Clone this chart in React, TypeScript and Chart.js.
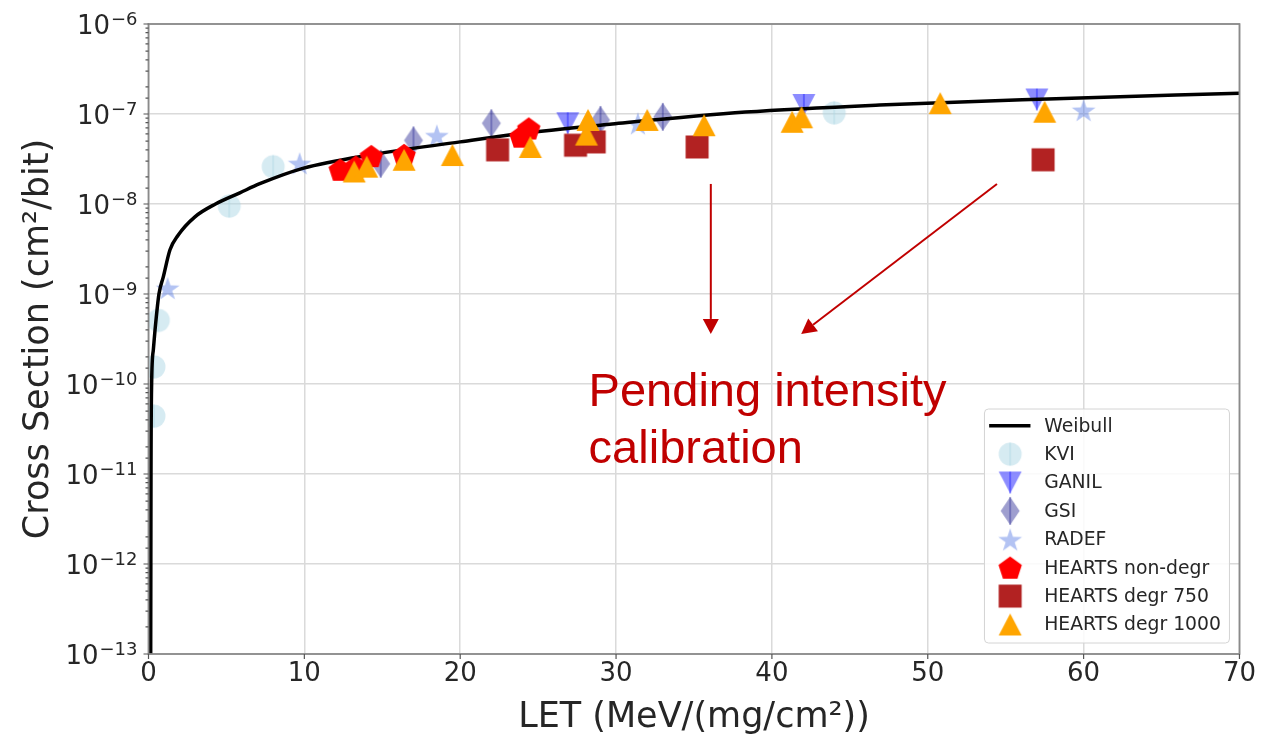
import React, { useEffect, useRef } from 'react';
import { Chart, registerables } from 'chart.js';

Chart.register(...registerables);

// ---------------- data ----------------
const WEIBULL_LET = [0.14, 0.15, 0.16, 0.2, 0.31, 0.42, 0.67, 0.95, 1.38, 1.9, 2.98, 4.3, 5.86, 7.14, 9.9, 14.4, 20.0, 23.6, 29.75, 38.3, 46.9, 57.7, 70];
const WEIBULL_SIGMA = [1e-13, 1e-12, 1e-11, 1e-10, 2.4e-10, 4.0e-10, 1.0e-9, 1.55e-9, 3.1e-9, 4.5e-9, 7.2e-9, 1.0e-8, 1.33e-8, 1.68e-8, 2.49e-8, 3.55e-8, 4.9e-8, 6.0e-8, 7.74e-8, 1.05e-7, 1.26e-7, 1.47e-7, 1.70e-7];

const KVI_LET = [0.35, 0.35, 0.63, 5.18, 8.0, 44.0];
const KVI_SIGMA = [4.4e-11, 1.55e-10, 5.1e-10, 9.5e-9, 2.6e-8, 1.03e-7];

const GANIL_LET = [26.9, 42.05, 57.0];
const GANIL_SIGMA = [7.9e-8, 1.26e-7, 1.45e-7];

const GSI_LET = [14.9, 17.0, 22.0, 29.0, 33.0];
const GSI_SIGMA = [2.8e-8, 5.1e-8, 7.9e-8, 8.6e-8, 9.3e-8];

const RADEF_LET = [1.23, 9.7, 18.5, 31.4, 60.0];
const RADEF_SIGMA = [1.17e-9, 2.85e-8, 5.8e-8, 7.9e-8, 1.11e-7];

const NONDEGR_LET = [12.3, 13.3, 14.3, 16.4, 23.9, 24.4];
const NONDEGR_SIGMA = [2.4e-8, 2.6e-8, 3.4e-8, 3.5e-8, 5.6e-8, 6.9e-8];

const DEGR750_LET = [22.4, 27.4, 28.6, 35.2, 57.4];
const DEGR750_SIGMA = [4.0e-8, 4.5e-8, 4.9e-8, 4.3e-8, 3.1e-8];

const DEGR1000_LET = [13.2, 14.0, 16.4, 19.5, 24.5, 28.1, 28.2, 32.0, 35.65, 41.3, 41.9, 50.8, 57.5];
const DEGR1000_SIGMA = [2.3e-8, 2.6e-8, 3.1e-8, 3.5e-8, 4.3e-8, 5.9e-8, 8.6e-8, 8.6e-8, 7.5e-8, 8.2e-8, 9.2e-8, 1.32e-7, 1.06e-7];

const SERIES_LABELS = ['Weibull', 'KVI', 'GANIL', 'GSI', 'RADEF', 'HEARTS non-degr', 'HEARTS degr 750', 'HEARTS degr 1000'];

const X_TICK_STEP = 10;
const X_MIN = 0;
const X_MAX = 70;
const Y_TICK_EXP = [-13, -12, -11, -10, -9, -8, -7, -6];

const X_TITLE = 'LET (MeV/(mg/cm²))';
const Y_TITLE = 'Cross Section (cm²/bit)';

// annotation (data coordinates)
const NOTE_LINES = ['Pending intensity', 'calibration'];
const NOTE_LET = 28.24;
const NOTE_SIGMA = [5.7e-11, 1.31e-11];
const ARROWS = [
  { fromLET: 36.08, fromSigma: 1.67e-8, toLET: 36.08, toSigma: 3.6e-10 },
  { fromLET: 54.44, fromSigma: 1.67e-8, toLET: 41.88, toSigma: 3.6e-10 },
];

// ---------------- styling ----------------
const FONT = '"DejaVu Sans", sans-serif';
const TEXT = '#262626';
const GRID = '#dadada';
const NOTE_COLOR = '#C00000';

type Kind = 'circle' | 'triDown' | 'triUp' | 'thinDiamond' | 'star' | 'pentagon' | 'square';

function makeMarker(kind: Kind, fill: string, errLine?: string): HTMLCanvasElement {
  const S = 32;
  const c = document.createElement('canvas');
  c.width = S;
  c.height = S;
  const g = c.getContext('2d')!;
  g.translate(S / 2, S / 2);
  g.fillStyle = fill;
  g.beginPath();
  let h = 11;
  switch (kind) {
    case 'circle':
      g.arc(0, 0, 11.5, 0, Math.PI * 2);
      h = 11.5;
      break;
    case 'triDown':
      g.moveTo(-11.5, -11);
      g.lineTo(11.5, -11);
      g.lineTo(0, 11);
      g.closePath();
      break;
    case 'triUp':
      g.moveTo(0, -11);
      g.lineTo(11.5, 11);
      g.lineTo(-11.5, 11);
      g.closePath();
      break;
    case 'thinDiamond':
      g.moveTo(0, -14);
      g.lineTo(9.5, 0);
      g.lineTo(0, 14);
      g.lineTo(-9.5, 0);
      g.closePath();
      h = 14;
      break;
    case 'square':
      g.rect(-11.5, -11.5, 23, 23);
      break;
    case 'pentagon':
      for (let i = 0; i < 5; i++) {
        const a = (-90 + 72 * i) * Math.PI / 180;
        const px = Math.cos(a) * 12.3;
        const py = Math.sin(a) * 12.3 + 1;
        if (i === 0) g.moveTo(px, py); else g.lineTo(px, py);
      }
      g.closePath();
      break;
    case 'star':
      for (let i = 0; i < 10; i++) {
        const a = (-90 + 36 * i) * Math.PI / 180;
        const r = i % 2 === 0 ? 12.5 : 4.8;
        const px = Math.cos(a) * r;
        const py = Math.sin(a) * r + 1.5;
        if (i === 0) g.moveTo(px, py); else g.lineTo(px, py);
      }
      g.closePath();
      break;
  }
  g.fill();
  if (errLine) {
    g.strokeStyle = errLine;
    g.lineWidth = 1.5;
    g.beginPath();
    g.moveTo(0, -h);
    g.lineTo(0, h);
    g.stroke();
  }
  return c;
}

const isDecade = (v: number) => {
  const l = Math.log10(v);
  return Math.abs(l - Math.round(l)) < 1e-6;
};

const pts = (xs: number[], ys: number[]) => xs.map((x, i) => ({ x, y: ys[i] }));

function drawArrow(ctx: CanvasRenderingContext2D, x1: number, y1: number, x2: number, y2: number) {
  const ang = Math.atan2(y2 - y1, x2 - x1);
  const headLen = 15;
  const headHalf = 8;
  const bx = x2 - Math.cos(ang) * headLen;
  const by = y2 - Math.sin(ang) * headLen;
  ctx.strokeStyle = NOTE_COLOR;
  ctx.fillStyle = NOTE_COLOR;
  ctx.lineWidth = 2;
  ctx.beginPath();
  ctx.moveTo(x1, y1);
  ctx.lineTo(bx, by);
  ctx.stroke();
  ctx.beginPath();
  ctx.moveTo(x2, y2);
  ctx.lineTo(bx + Math.sin(ang) * headHalf, by - Math.cos(ang) * headHalf);
  ctx.lineTo(bx - Math.sin(ang) * headHalf, by + Math.cos(ang) * headHalf);
  ctx.closePath();
  ctx.fill();
}

export default function App() {
  const ref = useRef<HTMLCanvasElement | null>(null);

  useEffect(() => {
    if (!ref.current) return;
    const markers = {
      kvi: makeMarker('circle', 'rgba(173,216,230,0.5)', 'rgba(173,216,230,0.5)'),
      ganil: makeMarker('triDown', 'rgba(0,0,255,0.45)', 'rgba(0,0,255,0.45)'),
      gsi: makeMarker('thinDiamond', 'rgba(0,0,128,0.38)', 'rgba(0,0,128,0.38)'),
      radef: makeMarker('star', 'rgba(65,105,225,0.4)'),
      nondegr: makeMarker('pentagon', '#ff0000'),
      d750: makeMarker('square', '#b22222'),
      d1000: makeMarker('triUp', '#ffa500'),
    };
    const legendMarkers: (HTMLCanvasElement | null)[] = [null, markers.kvi, markers.ganil, markers.gsi, markers.radef, markers.nondegr, markers.d750, markers.d1000];

    const decor = {
      id: 'decor',
      afterDatasetsDraw(chart: any) {
        const { ctx, chartArea: ca, scales } = chart;
        const xs = scales.x;
        const ys = scales.y;
        ctx.save();
        // frame
        ctx.strokeStyle = '#8a8a8a';
        ctx.lineWidth = 1.8;
        ctx.strokeRect(ca.left, ca.top, ca.right - ca.left, ca.bottom - ca.top);
        // ticks
        ctx.strokeStyle = '#555';
        ctx.lineWidth = 1.2;
        ctx.beginPath();
        for (const t of xs.ticks) {
          const px = xs.getPixelForValue(t.value);
          ctx.moveTo(px, ca.bottom);
          ctx.lineTo(px, ca.bottom + 5);
        }
        for (const t of ys.ticks) {
          const py = ys.getPixelForValue(t.value);
          const len = isDecade(t.value) ? 5 : 3;
          ctx.moveTo(ca.left, py);
          ctx.lineTo(ca.left - len, py);
        }
        ctx.stroke();
        // y tick labels with superscripts
        ctx.fillStyle = TEXT;
        ctx.textBaseline = 'alphabetic';
        ctx.textAlign = 'left';
        const right = ca.left - 11;
        for (const e of Y_TICK_EXP) {
          const py = ys.getPixelForValue(Math.pow(10, e));
          const expTxt = '\u2212' + String(Math.abs(e));
          ctx.font = `18px ${FONT}`;
          const we = ctx.measureText(expTxt).width;
          ctx.font = `26px ${FONT}`;
          const wb = ctx.measureText('10').width;
          ctx.fillText('10', right - we - wb - 1, py + 10);
          ctx.font = `18px ${FONT}`;
          ctx.fillText(expTxt, right - we, py + 1);
        }
        ctx.restore();
      },
      afterDraw(chart: any) {
        const { ctx, chartArea: ca, scales } = chart;
        const xs = scales.x;
        const ys = scales.y;
        ctx.save();
        // arrows
        for (const a of ARROWS) {
          drawArrow(
            ctx,
            xs.getPixelForValue(a.fromLET), ys.getPixelForValue(a.fromSigma),
            xs.getPixelForValue(a.toLET), ys.getPixelForValue(a.toSigma),
          );
        }
        // note text
        ctx.fillStyle = NOTE_COLOR;
        ctx.font = '47px "Liberation Sans", Arial, sans-serif';
        ctx.textAlign = 'left';
        ctx.textBaseline = 'alphabetic';
        NOTE_LINES.forEach((line, i) => {
          ctx.fillText(line, xs.getPixelForValue(NOTE_LET), ys.getPixelForValue(NOTE_SIGMA[i]));
        });
        // legend
        const w = 245;
        const h = 234;
        const bx = ca.right - 10 - w;
        const by = ca.bottom - 11 - h;
        ctx.beginPath();
        ctx.roundRect(bx, by, w, h, 4);
        ctx.fillStyle = 'rgba(255,255,255,0.85)';
        ctx.fill();
        ctx.strokeStyle = '#d4d4d4';
        ctx.lineWidth = 1;
        ctx.stroke();
        ctx.font = `18.8px ${FONT}`;
        ctx.textBaseline = 'middle';
        ctx.textAlign = 'left';
        const labels = chart.data.datasets.map((d: any) => d.label);
        labels.forEach((lab: string, i: number) => {
          const ry = by + 16.7 + i * 28.4;
          const mx = bx + 25.7;
          const m = legendMarkers[i];
          if (m) {
            ctx.drawImage(m, mx - m.width / 2, ry - m.height / 2);
          } else {
            ctx.strokeStyle = '#000';
            ctx.lineWidth = 3.5;
            ctx.beginPath();
            ctx.moveTo(bx + 4.7, ry);
            ctx.lineTo(bx + 46, ry);
            ctx.stroke();
          }
          ctx.fillStyle = TEXT;
          ctx.fillText(lab, bx + 59.7, ry + 1);
        });
        ctx.restore();
      },
    };

    const scatter = (label: string, xs: number[], ys: number[], style: HTMLCanvasElement, order: number) => ({
      label,
      data: pts(xs, ys),
      pointStyle: style,
      pointRadius: 11,
      pointHoverRadius: 11,
      order,
    });

    const chart = new Chart(ref.current, {
      type: 'scatter',
      data: {
        datasets: [
          {
            label: SERIES_LABELS[0],
            data: pts(WEIBULL_LET, WEIBULL_SIGMA),
            showLine: true,
            borderColor: '#000',
            borderWidth: 3.5,
            pointRadius: 0,
            pointHoverRadius: 0,
            cubicInterpolationMode: 'monotone',
            fill: false,
            order: 4,
          } as any,
          scatter(SERIES_LABELS[1], KVI_LET, KVI_SIGMA, markers.kvi, 8),
          scatter(SERIES_LABELS[2], GANIL_LET, GANIL_SIGMA, markers.ganil, 7),
          scatter(SERIES_LABELS[3], GSI_LET, GSI_SIGMA, markers.gsi, 6),
          scatter(SERIES_LABELS[4], RADEF_LET, RADEF_SIGMA, markers.radef, 5),
          scatter(SERIES_LABELS[5], NONDEGR_LET, NONDEGR_SIGMA, markers.nondegr, 3),
          scatter(SERIES_LABELS[6], DEGR750_LET, DEGR750_SIGMA, markers.d750, 2),
          scatter(SERIES_LABELS[7], DEGR1000_LET, DEGR1000_SIGMA, markers.d1000, 1),
        ],
      },
      options: {
        animation: false,
        responsive: false,
        devicePixelRatio: 1,
        layout: { padding: { top: 24, right: 19.5, left: 0, bottom: 0 } },
        plugins: { legend: { display: false }, tooltip: { enabled: false } },
        scales: {
          x: {
            type: 'linear',
            min: X_MIN,
            max: X_MAX,
            ticks: { stepSize: X_TICK_STEP, font: { family: FONT, size: 26 }, color: TEXT, padding: 5, maxRotation: 0 },
            grid: { color: GRID, lineWidth: 1.5, drawTicks: false },
            border: { display: false },
            title: { display: true, text: X_TITLE, font: { family: FONT, size: 35, lineHeight: 1 }, color: TEXT, padding: { top: 0, bottom: 0 } },
            afterFit: (s: any) => { s.height = 81; },
          },
          y: {
            type: 'logarithmic',
            min: Math.pow(10, Y_TICK_EXP[0]),
            max: Math.pow(10, Y_TICK_EXP[Y_TICK_EXP.length - 1]),
            ticks: { display: false },
            grid: { color: (c: any) => (c.tick && isDecade(c.tick.value) ? GRID : 'rgba(0,0,0,0)'), lineWidth: 1.5, drawTicks: false },
            border: { display: false },
            title: { display: true, text: Y_TITLE, font: { family: FONT, size: 35, lineHeight: 1 }, color: TEXT, padding: { top: 21, bottom: 0 } },
            afterFit: (s: any) => { s.width = 148.5; },
          },
        },
      } as any,
      plugins: [decor],
    });
    return () => chart.destroy();
  }, []);

  return (
    <div style={{ position: 'fixed', left: 0, top: 0, width: 1261, height: 735, background: '#fff' }}>
      <canvas ref={ref} width={1261} height={735} style={{ display: 'block' }} />
    </div>
  );
}
